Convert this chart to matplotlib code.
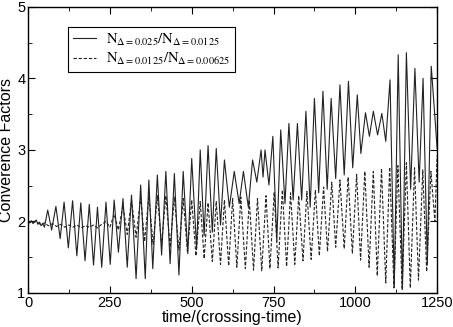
import matplotlib
matplotlib.use("Agg")
import matplotlib.pyplot as plt
from matplotlib.ticker import MultipleLocator

plt.rcParams["mathtext.fontset"] = "stix"

# solid: N(0.025)/N(0.0125), peaks and troughs
solid_t = [0, 5, 10, 15, 20, 25, 30, 35, 40, 45, 50, 60, 72, 85, 98, 110, 123, 136, 149, 161,
           174, 187, 200, 212, 225, 238, 251, 263, 276, 290, 303, 316, 330, 344, 358, 369, 381,
           395, 408, 421, 434, 447, 461, 474, 488, 500, 515, 526, 538, 550, 563, 575, 588, 600,
           615, 630, 645, 658, 673, 686, 699, 712, 718, 724, 736, 748, 760, 772, 785, 797, 810,
           823, 836, 849, 862, 875, 888, 901, 914, 926, 940, 953, 966, 979, 992, 1006, 1017,
           1031, 1043, 1055, 1068, 1081, 1093, 1106, 1119, 1131, 1144, 1156, 1169, 1182, 1195,
           1207, 1220, 1232, 1250]
solid_y = [2.00, 1.98, 2.01, 1.97, 2.00, 2.02, 1.96, 1.99, 1.94, 1.97, 1.92, 2.16, 1.88, 2.21,
           1.76, 2.27, 1.63, 2.29, 1.52, 2.26, 1.45, 2.24, 1.39, 2.20, 1.36, 2.27, 1.40, 2.30,
           1.57, 2.32, 1.36, 2.37, 1.20, 2.51, 1.20, 2.58, 1.34, 2.65, 1.53, 2.70, 1.41, 2.67,
           1.25, 2.70, 1.55, 2.88, 1.62, 3.00, 1.80, 3.06, 1.85, 3.02, 1.95, 2.86, 2.20, 2.70,
           2.25, 2.70, 2.20, 2.86, 2.55, 3.00, 2.62, 3.00, 2.51, 3.19, 1.72, 3.28, 2.25, 3.37,
           2.30, 3.37, 2.30, 3.54, 2.20, 3.72, 2.40, 3.82, 2.45, 3.72, 2.60, 3.91, 2.65, 3.96,
           2.75, 3.77, 2.95, 3.52, 3.19, 3.54, 3.21, 3.51, 3.12, 3.98, 1.08, 4.33, 1.05, 4.36,
           2.45, 4.14, 2.55, 4.00, 1.40, 4.17, 3.02]

# dashed: N(0.0125)/N(0.00625)
dash_t = [0, 12, 25, 37, 50, 62, 75, 87, 100, 112, 125, 137, 150, 162, 175, 187, 200, 212, 225,
          238, 250, 263, 276, 290, 303, 316, 330, 344, 356, 369, 382, 395, 408, 421, 434, 447,
          461, 474, 487, 500, 513, 526, 538, 550, 563, 575, 588, 600, 613, 625, 638, 650, 664,
          676, 689, 701, 714, 727, 739, 752, 764, 777, 790, 802, 815, 827, 840, 852, 865, 878,
          890, 903, 915, 928, 940, 953, 966, 978, 991, 1004, 1016, 1029, 1042, 1055, 1067, 1080,
          1093, 1105, 1118, 1130, 1143, 1156, 1168, 1181, 1193, 1206, 1218, 1231, 1243, 1250]
dash_y = [2.00, 1.98, 2.00, 1.96, 1.98, 1.94, 1.97, 1.93, 1.96, 1.92, 1.95, 1.92, 1.95, 1.91,
          1.94, 1.92, 1.95, 1.91, 1.96, 2.00, 1.92, 2.10, 1.88, 2.22, 1.82, 2.30, 1.78, 2.33,
          1.72, 2.35, 1.68, 2.36, 1.68, 2.36, 1.64, 2.34, 1.60, 2.32, 1.57, 2.30, 1.52, 2.28,
          1.48, 2.26, 1.44, 2.28, 1.40, 2.30, 1.38, 2.32, 1.36, 2.34, 1.34, 2.30, 1.32, 2.32,
          1.31, 2.36, 1.34, 2.41, 1.35, 2.44, 1.37, 2.40, 1.40, 2.36, 1.45, 2.42, 1.47, 2.44,
          1.52, 2.48, 1.58, 2.55, 1.64, 2.58, 1.62, 2.62, 1.55, 2.66, 1.46, 2.70, 1.36, 2.70,
          1.24, 2.74, 1.14, 2.76, 1.07, 2.78, 1.05, 2.82, 1.07, 2.75, 1.18, 2.72, 1.30, 2.70,
          2.00, 2.92]

fig = plt.figure(figsize=(4.53, 3.27), dpi=100)
ax = fig.add_axes([0.062, 0.104, 0.903, 0.875])

ax.plot(solid_t, solid_y, color="#222222", lw=0.8,
        label=r"$\mathrm{N_{\Delta=0.025}/N_{\Delta=0.0125}}$")
ax.plot(dash_t, dash_y, color="#222222", lw=0.8, ls=(0, (3, 1.6)),
        label=r"$\mathrm{N_{\Delta=0.0125}/N_{\Delta=0.00625}}$")

ax.set_xlim(0, 1250)
ax.set_ylim(1, 5)
ax.xaxis.set_major_locator(MultipleLocator(250))
ax.xaxis.set_minor_locator(MultipleLocator(125))
ax.yaxis.set_major_locator(MultipleLocator(1))
ax.yaxis.set_minor_locator(MultipleLocator(0.5))
ax.tick_params(which="both", direction="in", top=True, right=True, labelsize=10.5, pad=2)
ax.tick_params(which="major", length=5)
ax.tick_params(which="minor", length=3)
for lab in ax.get_xticklabels() + ax.get_yticklabels():
    lab.set_family("Liberation Sans")
for s in ax.spines.values():
    s.set_linewidth(1.0)

ax.set_xlabel("time/(crossing-time)", family="Liberation Sans", fontsize=11.5, labelpad=0)
ax.set_ylabel("Converence Factors", family="Liberation Sans", fontsize=11.5, labelpad=2)

leg = ax.legend(loc="upper left", bbox_to_anchor=(0.0985, 0.929), borderaxespad=0,
                fancybox=False, edgecolor="black", framealpha=1, fontsize=10.5,
                handlelength=1.6, handletextpad=0.7, labelspacing=0.25, borderpad=0.3)
leg.get_frame().set_linewidth(0.8)

fig.savefig("out.png", dpi=100)
